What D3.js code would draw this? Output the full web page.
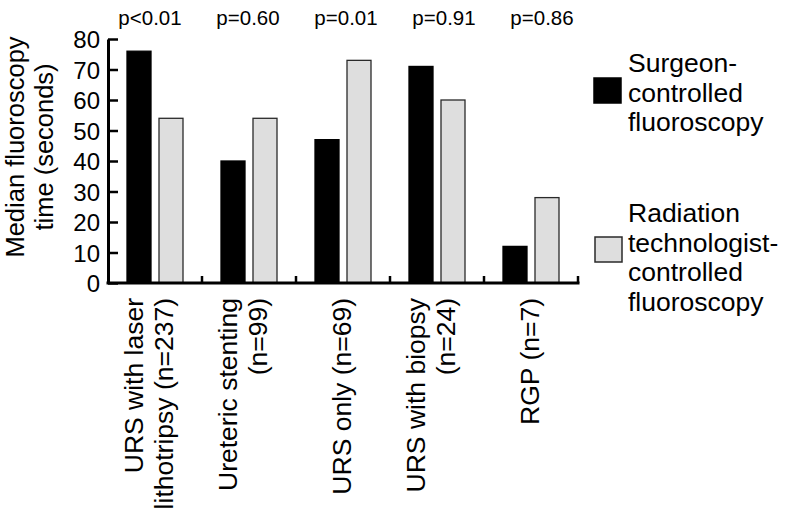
<!DOCTYPE html>
<html>
<head>
<meta charset="utf-8">
<script src="https://cdn.jsdelivr.net/npm/d3@7"></script>
<style>
  html, body { margin: 0; padding: 0; background: #fff; }
  svg { display: block; font-family: "Liberation Sans", Arial, Helvetica, sans-serif; }
</style>
</head>
<body>
<svg id="chart" width="793" height="514"></svg>
<script>
// ---- data ----
const categories = [
  ["URS with laser", "lithotripsy (n=237)"],
  ["Ureteric stenting", "(n=99)"],
  ["URS only (n=69)"],
  ["URS with biopsy", "(n=24)"],
  ["RGP (n=7)"]
];
const categoryKeys = categories.map(c => c.join(" "));
const seriesNames = [
  ["Surgeon-", "controlled", "fluoroscopy"],
  ["Radiation", "technologist-", "controlled", "fluoroscopy"]
];
const surgeonValues = [76, 40, 47, 71, 12];
const technologistValues = [54, 54, 73, 60, 28];
const pValues = ["p<0.01", "p=0.60", "p=0.01", "p=0.91", "p=0.86"];
const yTicks = [0, 10, 20, 30, 40, 50, 60, 70, 80];
const yLabel = ["Median fluoroscopy", "time (seconds)"];

// ---- layout ----
const svg = d3.select("#chart");
const plotLeft = 108, plotRight = 578, plotTop = 39, plotBottom = 283;
const fills = ["#000000", "#dedede"];
const strokes = ["#000000", "#2a2a2a"];

const y = d3.scaleLinear().domain([0, 80]).range([plotBottom, plotTop]);
const x0 = d3.scaleBand().domain(categoryKeys).range([plotLeft, plotRight]).padding(0);
const x1 = d3.scaleBand().domain([0, 1]).range([19, 75]).paddingInner(0.25).paddingOuter(0);
const pX = d3.scalePoint().domain(categoryKeys).range([150, 542]);

const rows = categoryKeys.map((k, i) => ({ key: k, values: [surgeonValues[i], technologistValues[i]] }));

// bars
const g = svg.append("g");
rows.forEach(r => {
  r.values.forEach((v, si) => {
    g.append("rect")
      .attr("x", x0(r.key) + x1(si))
      .attr("y", y(v))
      .attr("width", x1.bandwidth())
      .attr("height", y(0) - y(v))
      .attr("fill", fills[si])
      .attr("stroke", strokes[si])
      .attr("stroke-width", 1.3);
  });
});

// y axis
const yAxis = d3.axisLeft(y).tickValues(yTicks).tickSizeInner(-10).tickSizeOuter(0).tickPadding(8);
const ya = svg.append("g").attr("transform", `translate(${plotLeft},0)`).call(yAxis);
ya.select(".domain").attr("stroke", "#000").attr("stroke-width", 3);
ya.selectAll(".tick line").attr("stroke", "#000").attr("stroke-width", 2.5);
ya.selectAll(".tick text").attr("font-size", 24).attr("fill", "#000")
  .attr("font-family", "'Liberation Sans', Arial, sans-serif").attr("dy", "0.36em");

// x axis line + minor ticks at band boundaries
svg.append("line").attr("x1", plotLeft - 1.5).attr("x2", plotRight + 1.5)
  .attr("y1", plotBottom).attr("y2", plotBottom).attr("stroke", "#000").attr("stroke-width", 3);
categoryKeys.forEach(k => {
  const bx = x0(k) + x0.bandwidth();
  svg.append("line").attr("x1", bx).attr("x2", bx)
    .attr("y1", plotBottom).attr("y2", plotBottom - 7)
    .attr("stroke", "#000").attr("stroke-width", 2.5);
});

// category labels (rotated)
categories.forEach((lines, i) => {
  const cx = x0(categoryKeys[i]) + x0.bandwidth() / 2;
  const n = lines.length;
  lines.forEach((ln, j) => {
    const off = (j - (n - 1) / 2) * 30 + (n === 1 ? 8 : 3);
    svg.append("text")
      .attr("transform", `translate(${cx + off},298) rotate(-90)`)
      .attr("text-anchor", "end")
      .attr("font-size", 26.5)
      .attr("fill", "#000")
      .text(ln);
  });
});

// p-values
pValues.forEach((p, i) => {
  svg.append("text")
    .attr("x", pX(categoryKeys[i]))
    .attr("y", 25)
    .attr("text-anchor", "middle")
    .attr("font-size", 20.5)
    .attr("fill", "#000")
    .text(p);
});

// y axis label
yLabel.forEach((ln, j) => {
  svg.append("text")
    .attr("transform", `translate(${23.5 + j * 29.5},147) rotate(-90)`)
    .attr("text-anchor", "middle")
    .attr("font-size", 25.5)
    .attr("fill", "#000")
    .text(ln);
});

// legend
const legendSquares = [{ x: 594, y: 78 }, { x: 595, y: 237 }];
const legendBaselines = [72, 222];
seriesNames.forEach((lines, si) => {
  svg.append("rect")
    .attr("x", legendSquares[si].x).attr("y", legendSquares[si].y)
    .attr("width", 27).attr("height", 25)
    .attr("fill", fills[si]).attr("stroke", strokes[si]).attr("stroke-width", 1.5);
  lines.forEach((ln, j) => {
    svg.append("text")
      .attr("x", 628).attr("y", legendBaselines[si] + j * 29.7)
      .attr("font-size", 26.5).attr("fill", "#000")
      .text(ln);
  });
});
</script>
</body>
</html>
